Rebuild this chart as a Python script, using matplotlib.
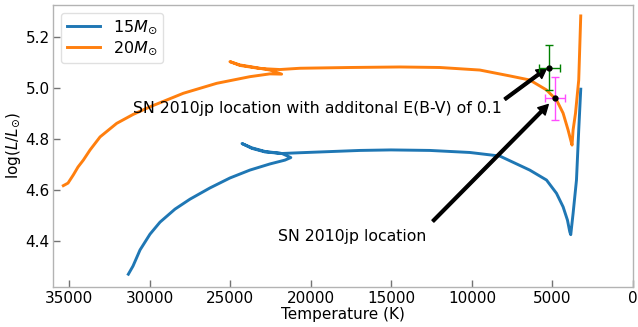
import matplotlib
matplotlib.use("Agg")
import matplotlib.pyplot as plt

# 15 Msun evolutionary track (effective temperature in K, log L/Lsun)
t15 = [31325, 31035, 30600, 29980, 29360, 28430, 27500, 26260, 25020, 23780,
       22540, 21610, 21240, 21790, 22840, 23650, 24270, 23650, 22840, 21790,
       20670, 19430, 16950, 15030, 12610, 10130, 8270, 6410, 5370, 4750,
       4340, 4070, 3925, 3865, 3720, 3510, 3370, 3245]
l15 = [4.269, 4.301, 4.364, 4.426, 4.473, 4.524, 4.563, 4.607, 4.646, 4.677,
       4.701, 4.716, 4.726, 4.742, 4.750, 4.764, 4.781, 4.762, 4.748, 4.742,
       4.745, 4.748, 4.754, 4.756, 4.754, 4.746, 4.732, 4.677, 4.638, 4.586,
       4.533, 4.481, 4.435, 4.424, 4.507, 4.638, 4.834, 4.994]

# 20 Msun evolutionary track
t20 = [35360, 35070, 34740, 34450, 34120, 33700, 33080, 32050, 31030, 29980,
       27910, 25840, 23780, 22540, 21810, 22540, 23160, 24400, 25020, 24400,
       23160, 21920, 20670, 17570, 14470, 11990, 9510, 7650, 6410, 5370,
       4750, 4340, 4030, 3820, 3785, 3720, 3570, 3470, 3370, 3245]
l20 = [4.616, 4.626, 4.658, 4.689, 4.716, 4.756, 4.807, 4.860, 4.895, 4.925,
       4.978, 5.017, 5.043, 5.054, 5.053, 5.069, 5.076, 5.089, 5.102, 5.087,
       5.075, 5.071, 5.076, 5.079, 5.081, 5.079, 5.069, 5.046, 5.030, 4.991,
       4.952, 4.900, 4.834, 4.783, 4.775, 4.834, 4.900, 4.965, 5.030, 5.281]

track_labels = [r"$15M_{\odot}$", r"$20M_{\odot}$"]

# SN 2010jp progenitor estimates: (T, logL, T error, logL error)
sn_ext = (5200, 5.078, 650, 0.088)   # with additional E(B-V) = 0.1
sn_obs = (4840, 4.958, 620, 0.085)   # nominal location

xticks = [35000, 30000, 25000, 20000, 15000, 10000, 5000, 0]
yticks = [4.4, 4.6, 4.8, 5.0, 5.2]

fig = plt.figure(figsize=(6.38, 3.27), dpi=100)
ax = fig.add_axes([0.0831, 0.1232, 0.9091, 0.8624])

ax.plot(t15, l15, color="#1f77b4", lw=2.1, label=track_labels[0],
        solid_joinstyle="round")
ax.plot(t20, l20, color="#ff7f0e", lw=2.1, label=track_labels[1],
        solid_joinstyle="round")

ax.errorbar(sn_ext[0], sn_ext[1], xerr=sn_ext[2], yerr=sn_ext[3], fmt="o",
            color="black", ms=3.5, ecolor="green", elinewidth=1.0,
            capsize=3, zorder=5)
ax.errorbar(sn_obs[0], sn_obs[1], xerr=sn_obs[2], yerr=sn_obs[3], fmt="o",
            color="black", ms=3.5, ecolor="#ff4dff", elinewidth=1.0,
            capsize=3, zorder=5)

arrow = dict(facecolor="black", edgecolor="black", width=2.0,
             headwidth=7.5, headlength=7, shrink=0.0)
ax.annotate("", xy=(5370, 5.075), xytext=(7950, 4.955), arrowprops=arrow)
ax.annotate("", xy=(5260, 4.934), xytext=(12420, 4.477), arrowprops=arrow)
ax.text(31020, 4.920, "SN 2010jp location with additonal E(B-V) of 0.1",
        fontsize=11.35, va="center", ha="left")
ax.text(22030, 4.418, "SN 2010jp location", fontsize=11.35, va="center",
        ha="left")

ax.set_xlim(36000, 0)
ax.set_ylim(4.22, 5.325)
ax.set_xticks(xticks)
ax.set_yticks(yticks)
ax.set_yticklabels([f"{v:.1f}" for v in yticks])
ax.set_xlabel("Temperature (K)", fontsize=11, labelpad=0.5)
ax.set_ylabel(r"$\log(L/L_{\odot})$", fontsize=11, labelpad=2)
ax.tick_params(direction="in", length=5, width=1.0, color="0.45",
               labelsize=11)
ax.tick_params(axis="y", pad=2.5)
ax.tick_params(axis="x", pad=3)
for s in ax.spines.values():
    s.set_color("0.7")
    s.set_linewidth(1.0)

leg = ax.legend(loc="upper left", fontsize=11.5, frameon=True, fancybox=True,
                borderaxespad=0.5, labelspacing=0.2, handlelength=2.1,
                borderpad=0.35)
leg.get_frame().set_edgecolor("0.85")

fig.savefig("out.png", dpi=100)
